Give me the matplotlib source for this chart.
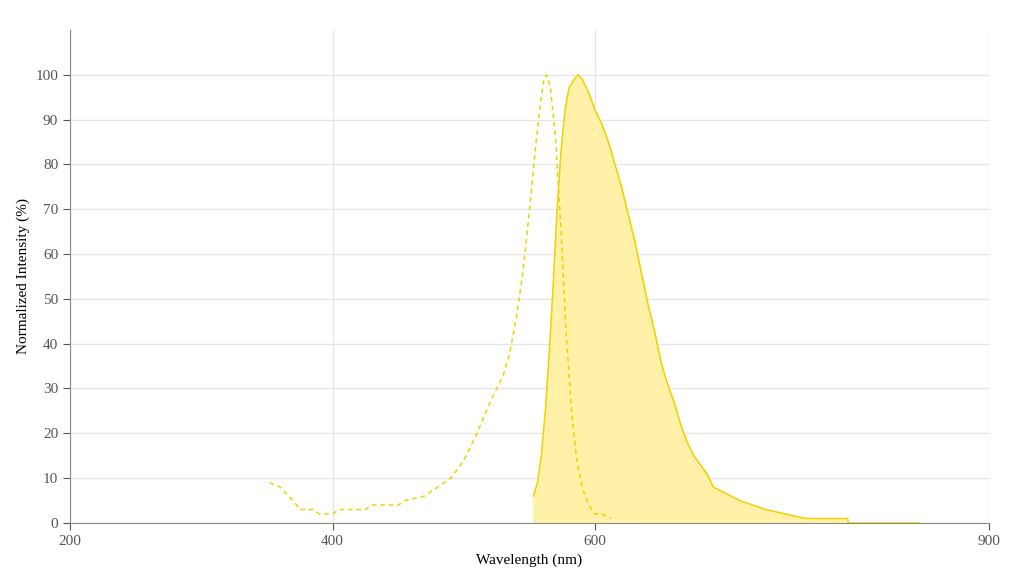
import matplotlib
matplotlib.use("Agg")
import matplotlib.pyplot as plt

plt.rcParams["font.family"] = ["Liberation Serif", "DejaVu Serif"]

# excitation (dashed)
ex_nm = [352, 360, 370, 375, 385, 390, 400, 405, 425, 430, 450, 455, 470, 480, 490,
         500, 510, 520, 530, 535, 540, 545, 550, 555, 558, 561, 563, 566, 570, 574,
         578, 582, 586, 590, 595, 600, 605, 612]
ex_val = [9, 8, 5, 3, 3, 2, 2, 3, 3, 4, 4, 5, 6, 8, 10,
          14, 20, 27, 33, 38, 46, 56, 70, 85, 93, 99, 100, 97, 85, 65,
          42, 25, 14, 8, 4, 2, 2, 1]

# emission (solid, filled)
em_nm = [553, 556, 559, 562, 565, 568, 571, 574, 577, 580, 584, 587, 590, 595, 600,
         605, 610, 615, 620, 625, 630, 635, 640, 645, 650, 655, 660, 665, 670, 675,
         680, 685, 690, 700, 710, 720, 730, 745, 760, 792, 793, 847]
em_val = [6, 9, 15, 25, 38, 53, 70, 83, 92, 97, 99, 100, 99, 96, 92,
          89, 85, 80, 75, 69, 63, 56, 49, 43, 36, 31, 27, 22, 18, 15,
          13, 11, 8, 6.5, 5, 4, 3, 2, 1, 1, 0, 0]

LINE = "#f2d100"
FILL = "#fff2a8"

fig = plt.figure(figsize=(10.1, 5.74), dpi=100)
ax = fig.add_axes([0.0693, 0.0889, 0.91, 0.859])

ax.fill_between(em_nm, em_val, 0, color=FILL, zorder=2)
ax.plot(em_nm, em_val, color=LINE, lw=1.1, zorder=3)
ax.plot(ex_nm, ex_val, color=LINE, lw=1.1, ls=(0, (3, 2.5)), zorder=3)

ax.set_xlim(200, 900)
ax.set_ylim(0, 110)
ax.set_xticks([200, 400, 600, 900])
ax.set_yticks(range(0, 101, 10))
ax.grid(True, color="#e6e6e6", lw=1, zorder=0)
ax.set_axisbelow(True)
for s in ["top", "right"]:
    ax.spines[s].set_visible(False)
for s in ["left", "bottom"]:
    ax.spines[s].set_color("#888888")
ax.tick_params(colors="#555555", labelsize=11, length=5)
ax.set_xlabel("Wavelength (nm)", fontsize=11)
ax.set_ylabel("Normalized Intensity (%)", fontsize=11)

fig.savefig("out.png")
